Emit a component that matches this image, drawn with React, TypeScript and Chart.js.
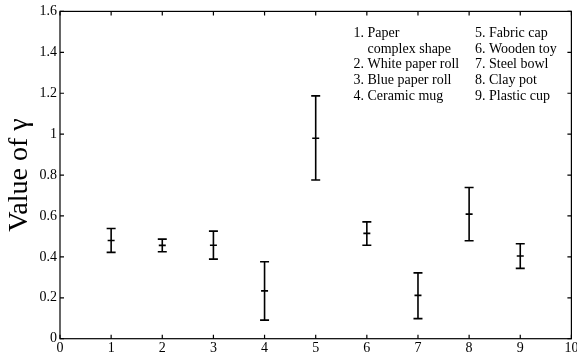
import React, { useEffect, useRef } from "react";
import { Chart, registerables } from "chart.js";

Chart.register(...registerables);

// ---- data ----
const objectIds = [1, 2, 3, 4, 5, 6, 7, 8, 9];
const gammaMean = [0.48, 0.456, 0.457, 0.234, 0.98, 0.515, 0.212, 0.609, 0.404];
const gammaLower = [0.422, 0.425, 0.389, 0.091, 0.776, 0.457, 0.098, 0.479, 0.344];
const gammaUpper = [0.539, 0.487, 0.526, 0.376, 1.187, 0.571, 0.322, 0.739, 0.464];
const xTicks = [0, 1, 2, 3, 4, 5, 6, 7, 8, 9, 10];
const yTicks = [0, 0.2, 0.4, 0.6, 0.8, 1, 1.2, 1.4, 1.6];
const legendCol1 = ["1. Paper", "complex shape", "2. White paper roll", "3. Blue paper roll", "4. Ceramic mug"];
const legendCol2 = ["5. Fabric cap", "6. Wooden toy", "7. Steel bowl", "8. Clay pot", "9. Plastic cup"];
const yTitle = "Value of \u03b3";

const FONT = "'Liberation Serif', 'Times New Roman', serif";

const framePlugin = {
  id: "frameTicks",
  afterDatasetsDraw(chart: any) {
    const { ctx, chartArea, scales } = chart;
    const xs = scales.x;
    const ys = scales.y;
    ctx.save();
    // error bars
    ctx.strokeStyle = "#000";
    ctx.lineWidth = 1.6;
    const cap = 4.5;
    objectIds.forEach((id, i) => {
      const px = xs.getPixelForValue(id);
      const pl = ys.getPixelForValue(gammaLower[i]);
      const pu = ys.getPixelForValue(gammaUpper[i]);
      ctx.beginPath();
      ctx.moveTo(px, pl);
      ctx.lineTo(px, pu);
      ctx.moveTo(px - cap, pl);
      ctx.lineTo(px + cap, pl);
      ctx.moveTo(px - cap, pu);
      ctx.lineTo(px + cap, pu);
      ctx.stroke();
    });
    ctx.restore();
  },
  afterDraw(chart: any) {
    const { ctx, chartArea, scales } = chart;
    const xs = scales.x;
    const ys = scales.y;
    const { left, right, top, bottom } = chartArea;
    ctx.save();
    ctx.strokeStyle = "#000";
    ctx.lineWidth = 1.2;
    ctx.strokeRect(left, top, right - left, bottom - top);
    const tl = 4;
    ctx.beginPath();
    yTicks.forEach((v) => {
      const py = ys.getPixelForValue(v);
      ctx.moveTo(left, py);
      ctx.lineTo(left + tl, py);
      ctx.moveTo(right, py);
      ctx.lineTo(right - tl, py);
    });
    xTicks.forEach((v) => {
      const px = xs.getPixelForValue(v);
      ctx.moveTo(px, bottom);
      ctx.lineTo(px, bottom - tl);
      ctx.moveTo(px, top);
      ctx.lineTo(px, top + tl);
    });
    ctx.stroke();

    // legend text
    ctx.fillStyle = "#000";
    ctx.font = `14px ${FONT}`;
    ctx.textBaseline = "alphabetic";
    ctx.textAlign = "left";
    const lh = 15.7;
    const base = top + 25.5;
    const c1 = left + 293.5;
    const c2 = left + 415;
    const indent = ctx.measureText("1. ").width;
    legendCol1.forEach((t, i) => {
      const x = i === 1 ? c1 + indent : c1;
      ctx.fillText(t, x, base + i * lh);
    });
    legendCol2.forEach((t, i) => {
      ctx.fillText(t, c2, base + i * lh);
    });
    ctx.restore();
  },
};

export default function App() {
  const ref = useRef<HTMLCanvasElement | null>(null);
  useEffect(() => {
    if (!ref.current) return;
    const chart = new Chart(ref.current, {
      type: "scatter",
      data: {
        datasets: [
          {
            data: objectIds.map((id, i) => ({ x: id, y: gammaMean[i] })),
            pointStyle: "line",
            radius: 3.5,
            borderColor: "#000",
            backgroundColor: "#000",
            borderWidth: 1.6,
          },
        ],
      },
      options: {
        animation: false,
        responsive: true,
        maintainAspectRatio: false,
        layout: { padding: { top: 11, right: 4, bottom: 0, left: 0 } },
        plugins: { legend: { display: false }, tooltip: { enabled: false } },
        scales: {
          x: {
            type: "linear",
            min: 0,
            max: 10,
            afterBuildTicks: (s: any) => {
              s.ticks = xTicks.map((v) => ({ value: v }));
            },
            afterFit: (s: any) => {
              s.height = 17.3;
              s.paddingRight = 0;
              s.paddingLeft = 0;
            },
            ticks: {
              color: "#000",
              font: { family: FONT, size: 14 },
              padding: 1,
              maxRotation: 0,
              autoSkip: false,
              callback: (v: any) => String(v),
            },
            grid: { display: false, drawTicks: false },
            border: { display: false },
          },
          y: {
            type: "linear",
            min: 0,
            max: 1.6,
            afterBuildTicks: (s: any) => {
              s.ticks = yTicks.map((v) => ({ value: v }));
            },
            afterFit: (s: any) => {
              s.width = 60;
            },
            ticks: {
              color: "#000",
              font: { family: FONT, size: 14 },
              padding: 3,
              autoSkip: false,
              callback: (v: any) => String(Math.round(v * 10) / 10),
            },
            grid: { display: false, drawTicks: false },
            border: { display: false },
            title: {
              display: true,
              text: yTitle,
              color: "#000",
              font: { family: FONT, size: 28 },
              padding: { top: 3, bottom: 0 },
            },
          },
        },
      },
      plugins: [framePlugin],
    });
    return () => chart.destroy();
  }, []);
  return (
    <div style={{ position: "fixed", left: 0, top: 0, width: 577, height: 356, background: "#fff", overflow: "hidden" }}>
      <canvas ref={ref} />
    </div>
  );
}
